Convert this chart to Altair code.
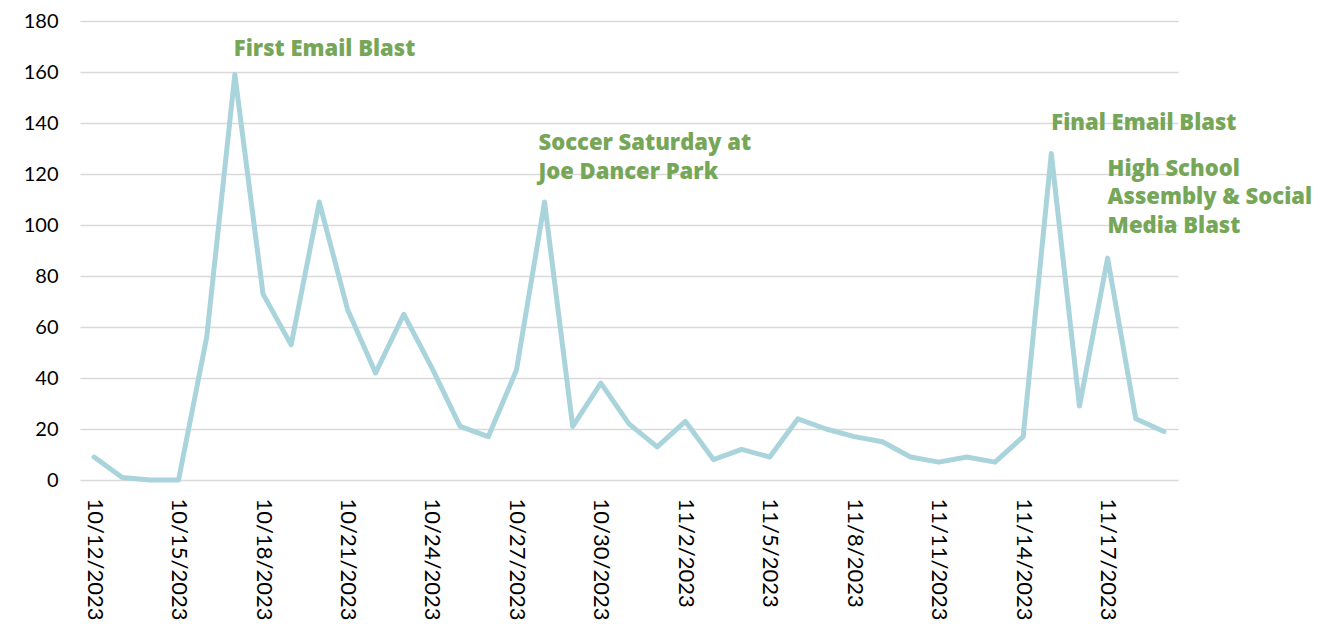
import altair as alt
import pandas as pd

dates = [
    "10/12/2023", "10/13/2023", "10/14/2023", "10/15/2023", "10/16/2023", "10/17/2023",
    "10/18/2023", "10/19/2023", "10/20/2023", "10/21/2023", "10/22/2023", "10/23/2023",
    "10/24/2023", "10/25/2023", "10/26/2023", "10/27/2023", "10/28/2023", "10/29/2023",
    "10/30/2023", "10/31/2023", "11/1/2023", "11/2/2023", "11/3/2023", "11/4/2023",
    "11/5/2023", "11/6/2023", "11/7/2023", "11/8/2023", "11/9/2023", "11/10/2023",
    "11/11/2023", "11/12/2023", "11/13/2023", "11/14/2023", "11/15/2023", "11/16/2023",
    "11/17/2023", "11/18/2023", "11/19/2023",
]
values = [
    9, 1, 0, 0, 56, 159,
    73, 53, 109, 67, 42, 65,
    44, 21, 17, 43, 109, 21,
    38, 22, 13, 23, 8, 12,
    9, 24, 20, 17, 15, 9,
    7, 9, 7, 17, 128, 29,
    87, 24, 19,
]
tick_dates = dates[::3]

ann_dates = ["10/17/2023", "10/28/2023", "11/15/2023", "11/17/2023"]
ann_y = [169, 132, 140, 122]
ann_dx = [-1, -6, 0, 0]
ann_text = [
    ["First Email Blast"],
    ["Soccer Saturday at", "Joe Dancer Park"],
    ["Final Email Blast"],
    ["High School", "Assembly & Social", "Media Blast"],
]

df = pd.DataFrame({"date": dates, "value": values})

xscale = alt.Scale(type="point", domain=dates, padding=0.5)
yscale = alt.Scale(domain=[0, 180])

line = alt.Chart(df).mark_line(color="#A9D4DB", strokeWidth=5, strokeCap="round", strokeJoin="round").encode(
    x=alt.X("date:O", scale=xscale, sort=dates,
            axis=alt.Axis(values=tick_dates, labelAngle=90, title=None, ticks=False, domain=False,
                          grid=False, labelPadding=18, labelFontSize=22, labelFont="Lato",
                          labelColor="#000000")),
    y=alt.Y("value:Q", scale=yscale,
            axis=alt.Axis(values=list(range(0, 181, 20)), title=None, ticks=False, domain=False,
                          gridColor="#D9D9D9", gridWidth=1.5, labelPadding=22, labelFontSize=20,
                          labelFont="Lato", labelColor="#000000", minExtent=60, maxExtent=60)),
)

layers = [line]
for d, yv, dxv, t in zip(ann_dates, ann_y, ann_dx, ann_text):
    a = pd.DataFrame({"date": [d], "y": [yv], "text": [t]})
    layers.append(
        alt.Chart(a).mark_text(align="left", baseline="middle", font="Open Sans", fontWeight=800,
                               fontSize=22, color="#76A657", lineHeight=28.5, dx=dxv).encode(
            x=alt.X("date:O", scale=xscale, sort=dates),
            y=alt.Y("y:Q", scale=yscale),
            text="text",
        )
    )

chart = alt.layer(*layers).properties(
    width=1098, height=459,
    autosize=alt.AutoSizeParams(type="none"),
    padding={"left": 72, "top": 13, "right": 150, "bottom": 150},
).configure_view(stroke=None)

chart.save("out.html", embed_options={"renderer": "svg", "actions": False})
